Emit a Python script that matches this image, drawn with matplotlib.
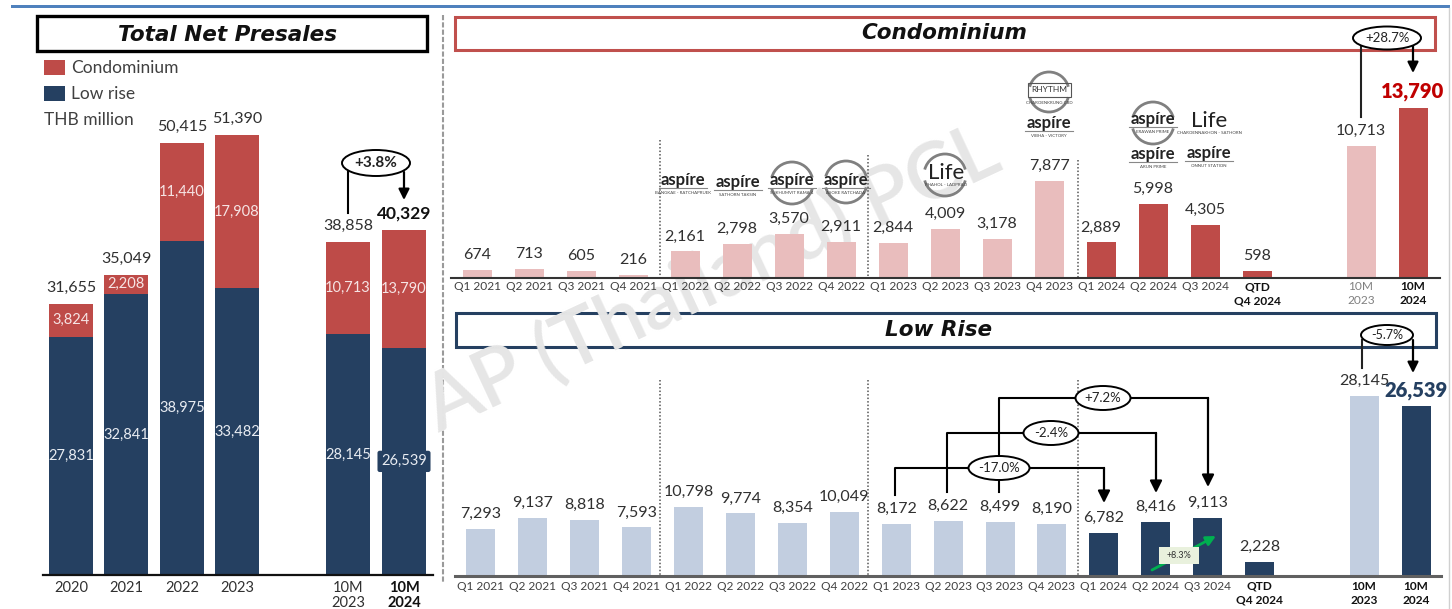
import matplotlib
matplotlib.use("Agg")
import matplotlib.pyplot as plt
from matplotlib.patches import Ellipse, Rectangle, Arc

FW, FH = 1452, 609
plt.rcParams['font.family'] = ['Lato', 'DejaVu Sans']

# ---- data ----
years = ['2020', '2021', '2022', '2023', '10M\n2023', '10M\n2024']
total_low = [27831, 32841, 38975, 33482, 28145, 26539]
total_condo = [3824, 2208, 11440, 17908, 10713, 13790]
total_sum = [31655, 35049, 50415, 51390, 38858, 40329]

quarters = ['Q1 2021', 'Q2 2021', 'Q3 2021', 'Q4 2021',
            'Q1 2022', 'Q2 2022', 'Q3 2022', 'Q4 2022',
            'Q1 2023', 'Q2 2023', 'Q3 2023', 'Q4 2023',
            'Q1 2024', 'Q2 2024', 'Q3 2024', 'QTD\nQ4 2024']
ten_month = ['10M\n2023', '10M\n2024']
condo_q = [674, 713, 605, 216, 2161, 2798, 3570, 2911, 2844, 4009, 3178, 7877,
           2889, 5998, 4305, 598]
condo_10m = [10713, 13790]
low_q = [7293, 9137, 8818, 7593, 10798, 9774, 8354, 10049, 8172, 8622, 8499, 8190,
         6782, 8416, 9113, 2228]
low_10m = [28145, 26539]

# ---- styles ----
RED = '#BE4B48'; PINK = '#E9BDBD'; NAVY = '#254061'; PALE = '#C2CEE0'
TXT = '#303030'

fig = plt.figure(figsize=(FW / 100, FH / 100), dpi=100, facecolor='white')


def px_axes(x0, x1, ytop, ybase, z):
    a = fig.add_axes([x0 / FW, 1 - ybase / FH, (x1 - x0) / FW, (ybase - ytop) / FH])
    a.set_zorder(z)
    a.patch.set_alpha(0)
    return a


def overlay(z):
    a = px_axes(0, FW, 0, FH, z)
    a.set_xlim(0, FW); a.set_ylim(FH, 0); a.axis('off')
    return a


bg = overlay(0)
fg = overlay(3)


def value_label(ax, x, y, s, off=14, size=11.5, color=TXT, weight='normal'):
    ax.annotate(s, (x, y), xytext=(0, off), textcoords='offset pixels', ha='center',
                va='center', fontsize=size, color=color, fontweight=weight, zorder=6)


def data_axes(x0, x1, ytop, ybase, ymax, lw, color):
    a = px_axes(x0, x1, ytop, ybase, 2)
    a.set_xlim(x0, x1); a.set_ylim(0, ymax)
    for s in ('top', 'left', 'right'):
        a.spines[s].set_visible(False)
    a.spines['bottom'].set_linewidth(lw); a.spines['bottom'].set_color(color)
    a.set_yticks([])
    a.tick_params(axis='x', length=0)
    return a


# ---- top strip, frames, divider ----
bg.add_patch(Rectangle((11, 5), 1439, 3.2, color='#4F81BD', lw=0))
bg.plot([1449, 1449], [8, 609], color='#D0D0D0', lw=1)
bg.plot([443, 443], [15, 582], color='#9A9A9A', lw=1.5, ls=(0, (2.5, 1)))
for (x0, y0, x1, y1, c, lw, t, tx, ty) in [
        (37, 16, 427, 51, '#000000', 2.4, 'Total Net Presales', 228, 35),
        (455, 17, 1435, 50, '#C0504D', 2.2, 'Condominium', 944, 33),
        (456, 313, 1436, 347, '#254061', 2.2, 'Low Rise', 939, 330)]:
    bg.add_patch(Rectangle((x0, y0), x1 - x0, y1 - y0, fc='white', ec=c, lw=lw, zorder=1))
    bg.text(tx, ty, t, ha='center', va='center', fontsize=15.5, fontweight='bold',
            fontstyle='italic', color='#111111', family='DejaVu Sans', zorder=3)
# watermark
bg.text(712, 280, 'AP (Thailand) PCL', rotation=25, rotation_mode='anchor',
        ha='center', va='center', fontsize=57, fontweight=600, color='#E6E6E6', zorder=2)

# ---- left: total stacked ----
SC_L = 440 / 51390
axL = data_axes(43, 433, 100, 575, 475 / SC_L, 1.6, '#111111')
posL = [71, 126, 182, 237, 348, 404]
axL.bar(posL, total_low, width=44.5, color=NAVY, label='Low rise', zorder=2)
axL.bar(posL, total_condo, width=44.5, bottom=total_low, color=RED, label='Condominium', zorder=2)
axL.set_xticks(posL)
axL.set_xticklabels(years, fontsize=10.5, color=TXT, linespacing=1.15)
axL.get_xticklabels()[5].set_fontweight('bold')
axL.get_xticklabels()[5].set_color('#111111')
axL.tick_params(axis='x', pad=4)
for i, x in enumerate(posL):
    fmt_low = f'{total_low[i]:,}'
    bbox = dict(boxstyle='round,pad=0.25,rounding_size=0.15', fc=NAVY, ec='none') if i == 5 else None
    axL.text(x, total_low[i] / 2, fmt_low, ha='center', va='center', color='#E8ECF2',
             fontsize=10.5, zorder=5, bbox=bbox)
    axL.text(x, total_low[i] + total_condo[i] / 2, f'{total_condo[i]:,}', ha='center',
             va='center', color='#F6E4E4', fontsize=10.5, zorder=5)
    if i == 5:
        value_label(axL, x, total_sum[i], f'{total_sum[i]:,}', off=16, size=12.5,
                    color='#111111', weight='bold')
    else:
        value_label(axL, x, total_sum[i], f'{total_sum[i]:,}', off=16)
h, l = axL.get_legend_handles_labels()
leg = axL.legend(h[::-1], l[::-1], loc='upper left', bbox_to_anchor=(44 / FW, 1 - 60 / FH),
                 bbox_transform=fig.transFigure, frameon=False, fontsize=12.5,
                 handlelength=1.2, handleheight=0.95, handletextpad=0.35, labelspacing=0.55,
                 labelcolor='#404040', borderpad=0, borderaxespad=0)
fg.text(44, 120, 'THB million', fontsize=12.5, color='#404040', ha='left', va='center')

# ---- shared positions ----
posT = [477 + 52 * i for i in range(16)] + [1361, 1413]
posB = [481 + 51.9 * i for i in range(16)] + [1364, 1416]
seps = [660, 868, 1078]

# ---- top: condominium ----
SC_T = 0.0123
axT = data_axes(451, 1440, 60, 278, 218 / SC_T, 1.5, '#333333')
colsT = [PINK] * 12 + [RED] * 4 + [PINK, RED]
valsT = condo_q + condo_10m
axT.bar(posT, valsT, width=29, color=colsT, zorder=2)
axT.set_xticks(posT)
axT.set_xticklabels(quarters + ten_month, fontsize=8.6, color='#404040', linespacing=1.3)
axT.tick_params(axis='x', pad=2.5)
labs = axT.get_xticklabels()
for i in (15, 17):
    labs[i].set_fontweight('bold'); labs[i].set_color('#111111')
labs[16].set_color('#808080')
for i, v in enumerate(valsT):
    if i == 17:
        value_label(axT, posT[i], v, f'{v:,}', off=17, size=14.5, color='#C00000', weight='heavy')
    else:
        value_label(axT, posT[i], v, f'{v:,}', off=15)

# ---- bottom: low rise ----
SC_B = 0.0064
axB = data_axes(455, 1441, 370, 576, 206 / SC_B, 2.2, '#606060')
colsB = [PALE] * 12 + [NAVY] * 4 + [PALE, NAVY]
valsB = low_q + low_10m
axB.bar(posB, valsB, width=29, color=colsB, zorder=2)
axB.set_xticks(posB)
axB.set_xticklabels(quarters + ten_month, fontsize=8.6, color='#404040', linespacing=1.3)
axB.tick_params(axis='x', pad=3.5)
labs = axB.get_xticklabels()
for i in (15, 16, 17):
    labs[i].set_fontweight('bold'); labs[i].set_color('#111111')
for i, v in enumerate(valsB):
    if i == 17:
        value_label(axB, posB[i], v, f'{v:,}', off=16, size=14.5, color=NAVY, weight='heavy')
    else:
        value_label(axB, posB[i], v, f'{v:,}', off=15)

# ---- quarter separators ----
for x, y0 in zip(seps, (140, 155, 160)):
    fg.plot([x, x], [y0, 277], color='#555555', lw=1.1, ls=(0, (1, 1.3)), zorder=1)
for x in seps:
    fg.plot([x, x], [380, 575], color='#555555', lw=1.1, ls=(0, (1, 1.3)), zorder=1)


# ---- brackets ----
def arrow(x, y0, y1, ms=18):
    fg.annotate('', xy=(x, y1), xytext=(x, y0),
                arrowprops=dict(arrowstyle='-|>', color='black', lw=1.6, mutation_scale=ms,
                                shrinkA=0, shrinkB=0), zorder=7)


def pill(cx, cy, w, h, s, size=9.5, weight='normal'):
    fg.add_patch(Ellipse((cx, cy), w, h, fc='white', ec='black', lw=1.4, zorder=9))
    fg.text(cx, cy, s, ha='center', va='center', fontsize=size, color='#222222',
            fontweight=weight, zorder=10)


for x0, x1, yh, y0, y1, cx, w, s in [
        (999, 1208, 398, 492, 487, 1103, 55, '+7.2%'),
        (947, 1156, 433, 492, 493, 1051, 55, '-2.4%'),
        (895, 1104, 468, 495, 503, 999, 61, '-17.0%')]:
    fg.plot([x0, x0, x1], [y0, yh, yh], color='black', lw=1.5, zorder=7, solid_joinstyle='round')
    arrow(x1, yh, y1)
    pill(cx, yh, w, 24, s)

fg.plot([348, 348], [172, 213], color='black', lw=1.5, zorder=7)
arrow(404, 172, 200, 16)
pill(376, 163, 68, 26, '+3.8%', 11, 'bold')

fg.plot([1361, 1361], [45, 117], color='#222222', lw=1.5, zorder=7)
arrow(1413, 45, 73, 16)
pill(1387, 38, 68, 23, '+28.7%')

fg.plot([1362, 1362], [340, 368], color='#222222', lw=1.5, zorder=7)
arrow(1413, 340, 373, 16)
pill(1387, 335, 52, 20, '-5.7%', 9)

# green growth arrow
fg.annotate('', xy=(1216, 536), xytext=(1152, 570),
            arrowprops=dict(arrowstyle='-|>', color='#00B050', lw=2, mutation_scale=14,
                            shrinkA=0, shrinkB=0), zorder=7)
fg.add_patch(Rectangle((1159, 547), 40, 17, fc='#E9F1DD', ec='none', zorder=8))
fg.text(1179, 555.5, '+8.3%', fontsize=6.5, ha='center', va='center', color='#333333', zorder=9)


# ---- project logos ----
def ring(cx, cy, r):
    for a, b in ((15, 165), (195, 345)):
        fg.add_patch(Arc((cx, cy), 2 * r, 2 * r, theta1=a, theta2=b, color='#808080', lw=2, zorder=4))


def logo(cx, cy, name, cap, uy=8, cy2=13, size=12, line=True, weight='bold'):
    fg.text(cx, cy, name, ha='center', va='center', fontsize=size, fontweight=weight,
            color='#222222', zorder=5)
    if line:
        fg.plot([cx - 24, cx + 24], [cy + uy, cy + uy], color='#888888', lw=0.8, zorder=5)
    fg.text(cx, cy + cy2, cap, ha='center', va='center', fontsize=3.2, color='#444444', zorder=5)


ring(792, 183, 21); ring(846, 182, 21); ring(945, 175, 21); ring(1049, 92, 20); ring(1153, 123, 21)
logo(683, 180, 'aspíre', 'BANGKAE - RATCHAPRUEK')
logo(738, 182, 'aspíre', 'SATHORN TAKSIN')
logo(792, 180, 'aspíre', 'SUKHUMVIT RAMA 4')
logo(846, 180, 'aspíre', 'ASOKE RATCHADA')
logo(946, 173, 'Life', 'PHAHOL - LADPRAO', cy2=12, size=16, line=False, weight='normal')
logo(1049, 123, 'aspíre', 'VIBHA - VICTORY')
logo(1153, 119, 'aspíre', 'ERAWAN PRIME')
logo(1209, 121, 'Life', 'CHAROENNAKHON - SATHORN', cy2=12, size=16, line=False, weight='normal')
logo(1153, 154, 'aspíre', 'ARUN PRIME')
logo(1209, 153, 'aspíre', 'ONNUT STATION')
fg.add_patch(Rectangle((1028, 83), 43, 14, fc='none', ec='#555555', lw=0.8, zorder=5))
fg.text(1049, 90, 'RHYTHM', fontsize=6, ha='center', va='center', color='#333333', zorder=5)
fg.text(1049, 103, 'CHAROENKRUNG CBD', fontsize=3.2, ha='center', va='center', color='#444444', zorder=5)

fig.savefig('out.png', dpi=100, facecolor='white')
